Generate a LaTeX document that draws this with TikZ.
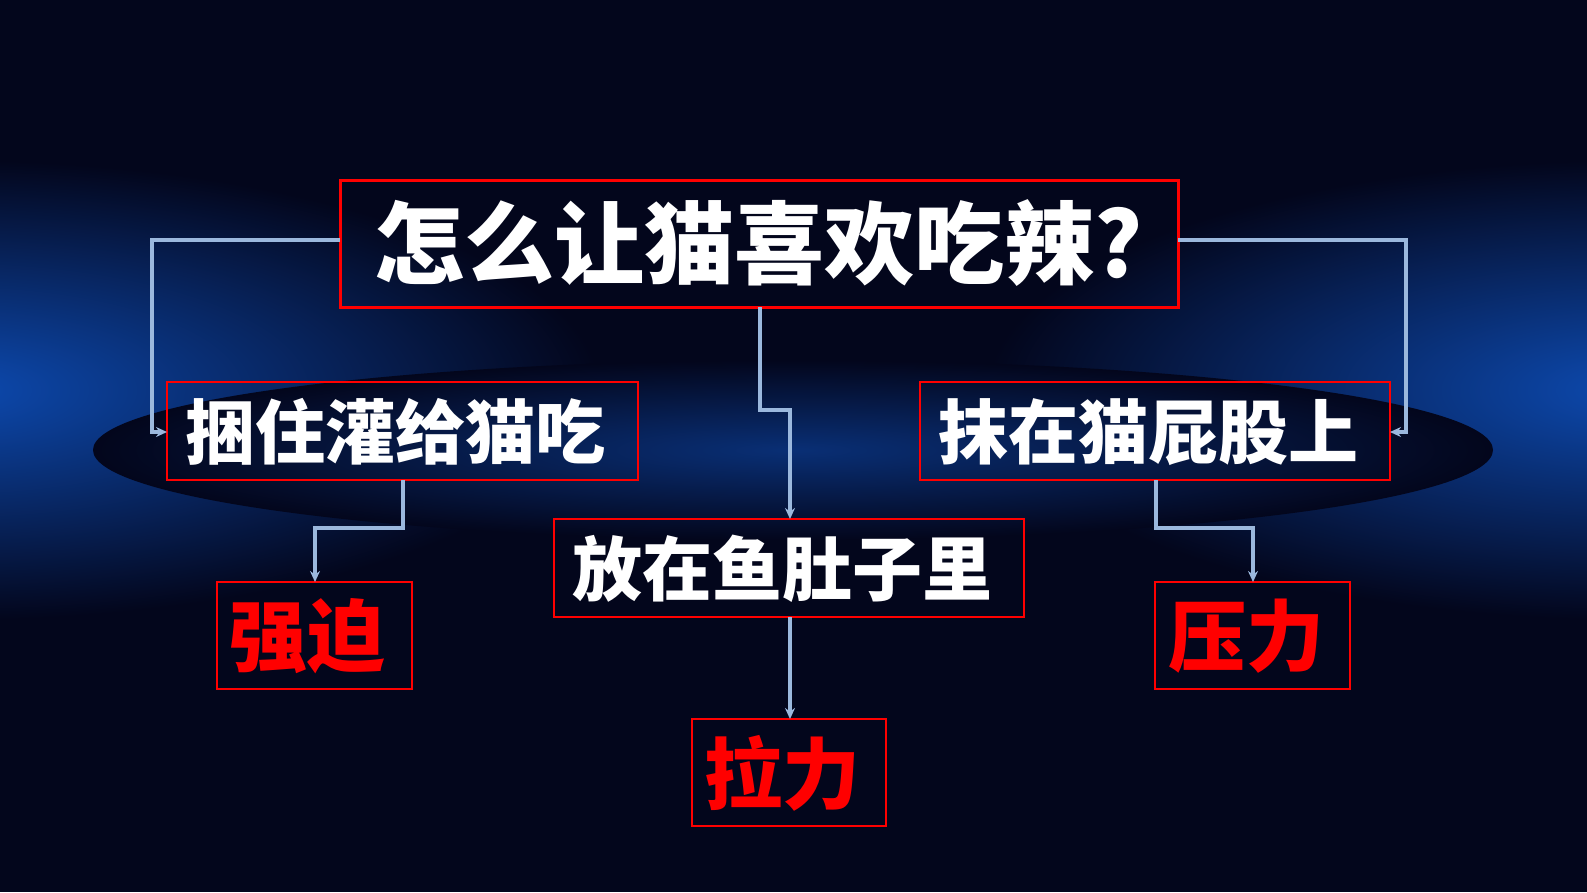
\documentclass[tikz,border=0pt]{standalone}
\usepackage{fontspec}
\newfontfamily\cjk{Noto Sans CJK SC}
\usetikzlibrary{arrows.meta}
\definecolor{bgc}{HTML}{03061C}
\definecolor{glow}{HTML}{0D4AB0}
\definecolor{conncol}{HTML}{9BB8DD}
\tikzset{
 box/.style={draw=red, line width=1.2pt},
 conn/.style={draw=conncol, line width=3.5pt, -{Stealth[length=11pt,width=10pt]}},
 wt/.style={text=white, font=\cjk\bfseries\fontsize{70}{70}\selectfont},
 rt/.style={text=red, font=\cjk\bfseries\fontsize{78}{78}\selectfont},
}
\begin{document}
\begin{tikzpicture}[x=1pt,y=-1pt]
\useasboundingbox (0,0) rectangle (1587,892);
\begin{scope}
\clip (0,0) rectangle (1587,892);
\fill[bgc] (0,0) rectangle (1587,892);
\shade[inner color=glow, outer color=bgc] (-50,390) ellipse [x radius=650, y radius=230];
\shade[inner color=glow, outer color=bgc] (1637,390) ellipse [x radius=650, y radius=230];
\shade[inner color=glow!60!bgc, outer color=bgc] (793,450) ellipse [x radius=700, y radius=90];
\end{scope}
% boxes
\draw[draw=red,line width=3pt] (340,180) rectangle (1178,307);
\node[wt,font=\cjk\bfseries\fontsize{90}{90}\selectfont] (t) at (759,243) {怎么让猫喜欢吃辣?};
\coordinate (tl) at (340,240); \coordinate (tr) at (1178,240); \coordinate (tb) at (760,307);
\draw[box] (167,382) rectangle (638,480); \node[wt] (a) at (395,432) {捆住灌给猫吃};
\draw[box] (920,382) rectangle (1390,480); \node[wt] (b) at (1148,432) {抹在猫屁股上};
\draw[box] (554,519) rectangle (1024,617); \node[wt] (c) at (782,569) {放在鱼肚子里};
\draw[box] (217,582) rectangle (412,689); \node[rt] (d) at (307,636) {强迫};
\draw[box] (692,719) rectangle (886,826); \node[rt] (e) at (782,773) {拉力};
\draw[box] (1155,582) rectangle (1350,689); \node[rt] (f) at (1246,636) {压力};
\coordinate (al) at (167,432); \coordinate (br) at (1390,432);
\coordinate (ab) at (403,480); \coordinate (bb) at (1156,480);
\coordinate (ct) at (790,519); \coordinate (cb) at (790,617);
\coordinate (dt) at (315,582); \coordinate (et) at (790,719); \coordinate (ft) at (1253,582);
% connectors
\draw[conn] (tl) -| (152,432) -- (al);
\draw[conn] (tr) -| (1406,432) -- (br);
\draw[conn] (tb) -- (760,410) -| (ct);
\draw[conn] (ab) -- (403,528) -| (dt);
\draw[conn] (bb) -- (1156,528) -| (ft);
\draw[conn] (cb) -- (et);
\end{tikzpicture}
\end{document}
